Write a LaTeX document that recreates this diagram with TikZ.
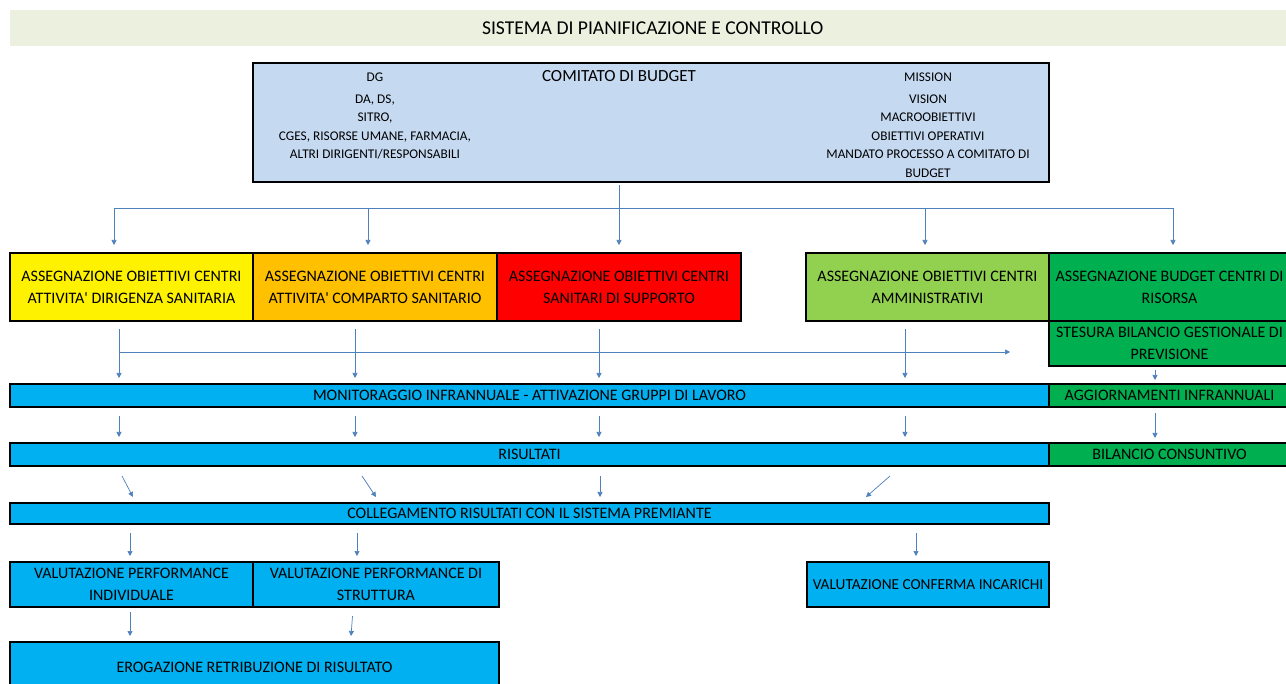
\documentclass[tikz,border=0pt]{standalone}
\usepackage{fontspec}
\setmainfont{Carlito}
\usetikzlibrary{positioning, arrows.meta}

\definecolor{titlebg}{HTML}{EBF1DE}
\definecolor{boardblue}{HTML}{C5D9F1}
\definecolor{cyanbar}{HTML}{00B0F0}
\definecolor{amber}{HTML}{FFC000}
\definecolor{lightgrn}{HTML}{92D050}
\definecolor{darkgrn}{HTML}{00B050}
\definecolor{linkblue}{HTML}{4F81BD}

\begin{document}
\begin{tikzpicture}[x=1pt, y=-1pt,
  box/.style = {draw, line width=1.5pt, outer sep=0pt, inner sep=0pt,
    align=center, anchor=north west, font=\fontsize{16}{22}\selectfont},
  small/.style = {align=center, inner sep=0pt, font=\fontsize{13.3}{18.5}\selectfont},
  arr/.style = {draw=linkblue, line width=0.7pt, -{Triangle[length=5pt,width=5pt]}},
  wire/.style = {draw=linkblue, line width=0.7pt}]
  \clip (0,0) rectangle (1286,684);
  \fill[white] (0,0) rectangle (1286,684);

  % title and budget committee
  \node[fill=titlebg, anchor=north west, minimum width=1285pt, minimum height=36pt,
    inner sep=0pt, font=\fontsize{19.6}{22}\selectfont] (title) at (10,10)
    {SISTEMA DI PIANIFICAZIONE E CONTROLLO};
  \node[box, fill=boardblue, minimum width=796pt, minimum height=119pt] (cb) at (253,63) {};
  \node[anchor=base, inner sep=0pt, font=\fontsize{17}{20}\selectfont] (cbname) at (619,82) {COMITATO DI BUDGET};
  \node[small, anchor=north] (who) at (375,72.5)
    {DG\\[3.5pt]DA, DS,\\SITRO,\\CGES, RISORSE UMANE, FARMACIA,\\ALTRI DIRIGENTI/RESPONSABILI};
  \node[small, anchor=north] (what) at (928,72.5)
    {MISSION\\[3.5pt]VISION\\MACROOBIETTIVI\\OBIETTIVI OPERATIVI\\MANDATO PROCESSO A COMITATO DI\\BUDGET};

  % assignment row
  \node[box, fill=yellow, minimum width=243pt, minimum height=68pt] (yel) at (10,253)
    {ASSEGNAZIONE OBIETTIVI CENTRI\\ATTIVITA\textquotesingle{} DIRIGENZA SANITARIA};
  \node[box, fill=amber, minimum width=244pt, minimum height=68pt, right=0pt of yel] (ora)
    {ASSEGNAZIONE OBIETTIVI CENTRI\\ATTIVITA\textquotesingle{} COMPARTO SANITARIO};
  \node[box, fill=red, minimum width=244pt, minimum height=68pt, right=0pt of ora] (red)
    {ASSEGNAZIONE OBIETTIVI CENTRI\\SANITARI DI SUPPORTO};
  \node[box, fill=lightgrn, minimum width=243pt, minimum height=68pt] (lgr) at (806,253)
    {ASSEGNAZIONE OBIETTIVI CENTRI\\AMMINISTRATIVI};
  \node[box, fill=darkgrn, minimum width=241pt, minimum height=68pt, right=0pt of lgr] (grn)
    {ASSEGNAZIONE BUDGET CENTRI DI\\RISORSA};
  \node[box, fill=darkgrn, minimum width=241pt, minimum height=45pt] (ste) at (1049,321)
    {STESURA BILANCIO GESTIONALE DI\\PREVISIONE};

  % bars
  \node[box, fill=cyanbar, minimum width=1039pt, minimum height=23pt] (mon) at (10,384)
    {MONITORAGGIO INFRANNUALE - ATTIVAZIONE GRUPPI DI LAVORO};
  \node[box, fill=darkgrn, minimum width=241pt, minimum height=23pt, right=0pt of mon] (agg)
    {AGGIORNAMENTI INFRANNUALI};
  \node[box, fill=cyanbar, minimum width=1039pt, minimum height=23pt] (ris) at (10,443) {RISULTATI};
  \node[box, fill=darkgrn, minimum width=241pt, minimum height=23pt, right=0pt of ris] (bil)
    {BILANCIO CONSUNTIVO};
  \node[box, fill=cyanbar, minimum width=1039pt, minimum height=21pt] (col) at (10,503)
    {COLLEGAMENTO RISULTATI CON IL SISTEMA PREMIANTE};

  % evaluations
  \node[box, fill=cyanbar, minimum width=243pt, minimum height=45pt] (vin) at (10,562)
    {VALUTAZIONE PERFORMANCE\\INDIVIDUALE};
  \node[box, fill=cyanbar, minimum width=246pt, minimum height=45pt, right=0pt of vin] (vst)
    {VALUTAZIONE PERFORMANCE DI\\STRUTTURA};
  \node[box, fill=cyanbar, minimum width=242pt, minimum height=45pt,
    font=\fontsize{15.3}{20}\selectfont] (vci) at (807,562)
    {VALUTAZIONE CONFERMA INCARICHI};
  \node[box, fill=cyanbar, minimum width=489pt, minimum height=50pt] (ero) at (10,642)
    {EROGAZIONE RETRIBUZIONE DI RISULTATO};

  % committee to the assignment row
  \draw[arr, shorten <=3pt, shorten >=8pt] (red.north |- cb.south) -- (red.north);
  \coordinate (split) at (0,208);
  \coordinate (yelin) at ([xshift=-17.5pt]yel.north);
  \coordinate (grnin) at ([xshift=3.5pt]grn.north);
  \draw[wire] (yelin |- split) -- (grnin |- split);
  \foreach \n/\dx in {yel/-17.5, ora/-7, lgr/-2.5, grn/3.5}
    \draw[arr, shorten >=8pt] ([xshift=\dx pt]\n.north |- split) -- ([xshift=\dx pt]\n.north);

  % assignment row to monitoring
  \foreach \n/\dx in {yel/-12.5, ora/-20, red/-20, lgr/-22.5}{
    \draw[arr, shorten <=8pt, shorten >=6pt] ([xshift=\dx pt]\n.south) -- ([xshift=\dx pt]\n.south |- mon.north);
    \draw[arr, shorten <=9pt, shorten >=6pt] ([xshift=\dx pt]\n.south |- mon.south) -- ([xshift=\dx pt]\n.south |- ris.north);
  }
  \coordinate (feed) at (0,352);
  \coordinate (yelout) at ([xshift=-12.5pt]yel.south);
  \draw[arr, shorten >=39pt] (yelout |- feed) -- (ste.west |- feed);

  % budget column
  \coordinate (bud) at ([xshift=-14.5pt]ste.south);
  \draw[arr, shorten <=4pt, shorten >=4pt] (bud) -- (bud |- agg.north);
  \draw[arr, shorten <=6pt, shorten >=5pt] (bud |- agg.south) -- (bud |- bil.north);

  % results to reward system
  \foreach \a/\b in {-407.5/-396.5, -167.5/-153.5, 70.5/70.5, 360.5/336.5}
    \draw[arr] ([xshift=\a pt, yshift=-10pt]ris.south) -- ([xshift=\b pt, yshift=6pt]col.north);

  % reward system to evaluations
  \foreach \n/\dx in {vin/-1.5, vst/-19, vci/-12}
    \draw[arr, shorten <=9pt, shorten >=6pt] ([xshift=\dx pt]\n.north |- col.south) -- ([xshift=\dx pt]\n.north);
  \draw[arr, shorten <=5pt, shorten >=6pt] ([xshift=-1.5pt]vin.south) -- ([xshift=-1.5pt]vin.south |- ero.north);
  \draw[arr] ([xshift=-23.5pt, yshift=-9pt]vst.south) -- ([xshift=-25pt, yshift=6pt]ero.north -| vst.south);
\end{tikzpicture}
\end{document}
